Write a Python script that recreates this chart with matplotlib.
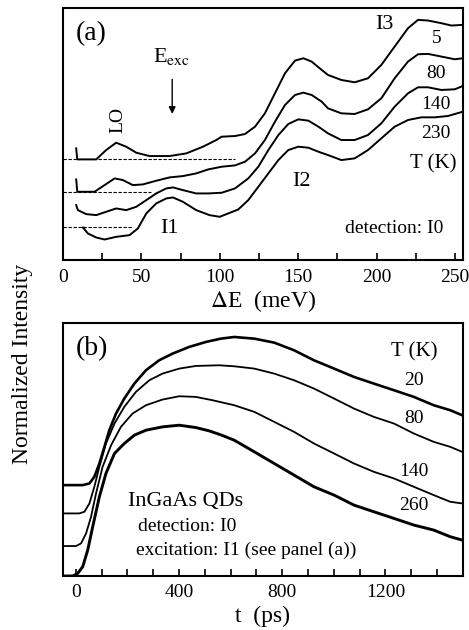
import numpy as np
import matplotlib
matplotlib.use("Agg")
import matplotlib.pyplot as plt
from matplotlib.ticker import MultipleLocator

plt.rcParams['font.family'] = ['Liberation Serif', 'DejaVu Serif']
plt.rcParams['mathtext.fontset'] = 'stix'

# ---- panel (a): PLE spectra, offset for clarity (arb. units) ----
e_5 = [8.5, 9.2, 21.3, 27.6, 34, 40.4, 46.8, 55.3, 68, 78.7, 89.3, 97.8, 101.2, 109.7, 116.1,
       122.5, 128.8, 135.2, 141.6, 148, 153.3, 158.6, 165, 169, 177.5, 186, 194.5, 203, 211.5,
       220, 226.4, 232.8, 241.3, 247.7, 255]
i_5 = [33.5, 30.2, 30.2, 33.0, 35.2, 34.0, 32.2, 31.2, 31.2, 32.0, 34.0, 36.0, 37.0, 37.2, 37.8,
       40.0, 44.0, 50.0, 56.0, 59.8, 60.5, 59.5, 57.0, 55.5, 54.0, 53.3, 54.5, 58.5, 64.0,
       69.5, 72.0, 71.8, 71.0, 70.3, 70.5]

e_80 = [8.5, 9.2, 20.2, 26.6, 33, 38.3, 44.6, 51, 59.5, 68, 76.5, 85, 92.7, 101.2, 109.7,
        116.1, 122.5, 128.8, 135.2, 141.6, 148, 153.3, 158.6, 165, 169, 177.5, 186, 194.5, 203,
        211.5, 220, 226.4, 232.8, 241.3, 249.8, 255]
i_80 = [24.2, 20.5, 20.5, 22.5, 24.5, 24.0, 22.5, 22.7, 23.8, 24.8, 25.2, 26.0, 27.2, 28.0, 28.4,
        29.5, 32.0, 36.0, 41.5, 46.5, 49.5, 50.2, 49.5, 47.5, 45.5, 44.0, 43.8, 45.2, 48.5,
        54.5, 59.5, 61.7, 61.8, 61.0, 60.2, 60.5]

e_140 = [8.5, 9.6, 14.9, 21.3, 27.6, 34, 40.4, 46.8, 53.2, 59.5, 65.9, 70.2, 76.5, 85, 92.7,
         101.2, 109.7, 118.2, 124.6, 131, 137.4, 143.7, 150.1, 156.5, 162.9, 169, 177.5, 186,
         194.5, 203, 211.5, 220, 226.4, 232.8, 241.3, 249.8, 255]
i_140 = [16.5, 15.0, 13.8, 13.5, 14.5, 15.5, 15.0, 16.0, 18.0, 20.0, 21.5, 21.8, 21.0, 20.0, 20.0,
         20.2, 21.5, 24.5, 28.0, 33.0, 37.5, 40.8, 42.2, 41.8, 40.0, 38.0, 36.0, 36.0, 37.5,
         41.0, 46.0, 50.0, 51.8, 51.8, 51.0, 51.2, 52.2]

e_230 = [12.8, 16, 21.3, 26.6, 34, 42.5, 47.8, 53.2, 59.5, 65.9, 70.2, 76.5, 85, 93.5, 100,
         111.8, 118.2, 124.6, 131, 137.4, 143.7, 150.1, 156.5, 162.9, 169, 177.5, 186, 194.5,
         203, 211.5, 220, 228.5, 237, 245.5, 255]
i_230 = [9.8, 8.0, 6.8, 6.2, 7.0, 7.5, 9.5, 14.0, 17.0, 18.5, 18.8, 17.5, 15.0, 13.5, 13.0,
         15.2, 18.0, 22.0, 26.0, 30.0, 33.0, 34.0, 33.7, 32.5, 31.5, 30.0, 30.5, 33.0,
         36.5, 40.0, 42.0, 42.8, 42.8, 43.2, 44.5]

# zero lines (level, end energy)
base_levels = [30.2, 20.3, 10.0]
base_ends = [110, 56.3, 44.6]

# ---- panel (b): transients ----
t_20 = [-50, 27, 53, 72, 91.5, 111, 130, 156, 188, 227, 272, 323, 375, 439, 504, 562, 614, 692,
        769, 846, 923, 1001, 1078, 1155, 1233, 1310, 1387, 1451, 1497]
y_20 = [27.3, 27.3, 27.8, 29.8, 33.8, 38.8, 43.8, 48.8, 53.3, 57.8, 61.8, 64.8, 66.8, 68.8,
        70.3, 71.3, 71.8, 71.3, 70.1, 67.8, 64.8, 62.3, 59.8, 57.8, 55.8, 53.8, 51.3, 49.8, 48.3]

t_80 = [-50, 14, 33.5, 53, 72, 91.5, 117, 150, 188, 233, 285, 336, 401, 465, 555, 614, 692, 769,
        846, 923, 1001, 1078, 1155, 1233, 1310, 1387, 1451, 1497]
y_80 = [18.8, 18.8, 19.3, 21.8, 26.8, 32.8, 39.8, 45.8, 50.8, 55.3, 58.8, 60.8, 62.3, 63.1,
        63.3, 63.0, 62.3, 60.8, 58.8, 56.3, 53.3, 50.3, 47.8, 45.8, 42.8, 40.3, 38.8, 37.3]

t_140 = [-50, 1.3, 20.6, 40, 59.3, 78.6, 104, 137, 175, 220, 272, 336, 401, 465, 530, 614, 692,
         769, 846, 923, 1001, 1078, 1155, 1233, 1310, 1387, 1451, 1497]
y_140 = [9.0, 9.0, 9.8, 12.8, 17.8, 24.8, 32.8, 39.3, 44.8, 48.8, 51.3, 53.0, 54.0, 53.8, 52.8,
         51.3, 49.3, 46.3, 43.3, 39.8, 36.8, 33.8, 31.3, 29.3, 26.8, 24.3, 22.3, 21.8]

t_260 = [-50, -11.6, 7.8, 27, 46.4, 65.7, 91.5, 117, 150, 188, 227, 272, 336, 401, 465, 517,
         562, 614, 692, 769, 846, 923, 1001, 1078, 1155, 1233, 1310, 1387, 1451, 1497]
y_260 = [0.0, 0.0, 0.8, 2.8, 7.8, 14.8, 23.8, 30.8, 36.8, 39.8, 42.3, 43.8, 44.8, 45.3, 44.6,
         43.6, 42.4, 40.8, 37.3, 33.8, 30.3, 26.8, 24.3, 21.3, 19.3, 17.3, 15.3, 13.8, 11.8, 10.8]

fig = plt.figure(figsize=(4.69, 6.30), dpi=100)
ax1 = fig.add_axes([0.134, 0.587, 0.853, 0.400])
ax2 = fig.add_axes([0.134, 0.0857, 0.853, 0.4016])

# panel (a)
for e, i in [(e_5, i_5), (e_80, i_80), (e_140, i_140), (e_230, i_230)]:
    ax1.plot(e, i, color='black', lw=1.4, solid_joinstyle='round')
for lev, end in zip(base_levels, base_ends):
    ax1.plot([0, end], [lev, lev], color='black', lw=0.8, ls=(0, (3, 1.5)))

ax1.set_xlim(0, 255)
ax1.set_ylim(0, 75.5)
ax1.set_yticks([])
ax1.xaxis.set_major_locator(MultipleLocator(50))
ax1.xaxis.set_minor_locator(MultipleLocator(25))
ax1.set_xlabel(r'$\Delta$E  (meV)', fontsize=17, labelpad=2)

ax1.text(18.3, 68, '(a)', fontsize=20, ha='center', va='center')
ax1.text(69.3, 61, r'E$_{\rm exc}$', fontsize=16, ha='center', va='center')
ax1.annotate('', xy=(69.7, 43), xytext=(69.7, 55),
             arrowprops=dict(arrowstyle='-|>', color='black', lw=1.0, mutation_scale=10))
ax1.text(35.3, 42, 'LO', fontsize=14, rotation=90, ha='center', va='center')
ax1.text(68, 9.5, 'I1', fontsize=16, ha='center', va='center')
ax1.text(152, 23.5, 'I2', fontsize=16, ha='center', va='center')
ax1.text(205, 70.5, 'I3', fontsize=16, ha='center', va='center')
for lab, yy in zip(['5', '80', '140', '230'], [66.5, 56, 46.5, 38]):
    ax1.text(238, yy, lab, fontsize=14, ha='center', va='center')
ax1.text(236, 29, 'T (K)', fontsize=15, ha='center', va='center')
ax1.text(211, 9.5, 'detection: I0', fontsize=14, ha='center', va='center')

# panel (b)
ax2.plot(t_20, y_20, color='black', lw=1.9, solid_joinstyle='round')
ax2.plot(t_80, y_80, color='black', lw=1.3, solid_joinstyle='round')
ax2.plot(t_140, y_140, color='black', lw=1.3, solid_joinstyle='round')
ax2.plot(t_260, y_260, color='black', lw=2.1, solid_joinstyle='round')

ax2.set_xlim(-50, 1500)
ax2.set_ylim(0, 76)
ax2.set_yticks([])
ax2.xaxis.set_major_locator(MultipleLocator(400))
ax2.xaxis.set_minor_locator(MultipleLocator(100))
ax2.set_xlabel('t  (ps)', fontsize=17, labelpad=3)

ax2.text(62, 68.3, '(b)', fontsize=20, ha='center', va='center')
ax2.text(1310, 67.3, 'T (K)', fontsize=15, ha='center', va='center')
for lab, yy in zip(['20', '80', '140', '260'], [58.8, 47.3, 31.3, 21.3]):
    ax2.text(1310, yy, lab, fontsize=14, ha='center', va='center')
ax2.text(202, 22.3, 'InGaAs QDs', fontsize=16, ha='left', va='center')
ax2.text(241, 14.8, 'detection: I0', fontsize=14, ha='left', va='center')
ax2.text(234, 7.8, 'excitation: I1 (see panel (a))', fontsize=14, ha='left', va='center')

for ax in (ax1, ax2):
    for s in ax.spines.values():
        s.set_linewidth(1.5)
    ax.tick_params(axis='x', which='both', direction='in', length=5, width=1.2,
                   labelsize=14, pad=6)

fig.text(0.047, 0.422, 'Normalized Intensity', rotation=90, fontsize=17,
         ha='center', va='center')

fig.savefig('out.png', dpi=100)
